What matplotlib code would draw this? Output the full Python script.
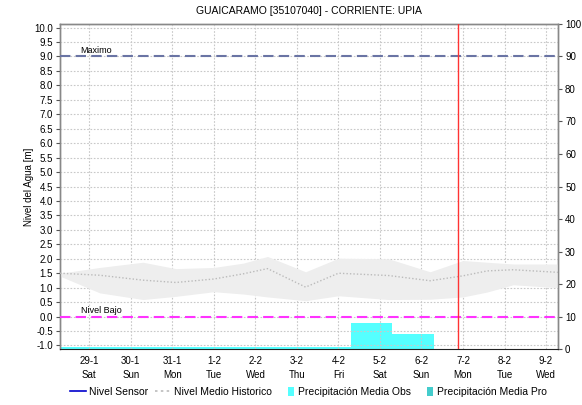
import matplotlib
matplotlib.use("Agg")
import matplotlib.pyplot as plt
from matplotlib.lines import Line2D
from matplotlib.patches import Patch
import numpy as np
import pandas as pd

plt.rcParams['font.family'] = ['Liberation Sans', 'DejaVu Sans']

title = "GUAICARAMO [35107040] - CORRIENTE: UPIA"

# Historic level statistics (m)
hist_times = ["2022-01-28 07:00", "2022-01-29 06:00", "2022-01-30 07:00", "2022-01-31 02:00",
              "2022-02-01 00:00", "2022-02-01 17:00", "2022-02-02 07:00", "2022-02-03 05:00",
              "2022-02-04 00:00", "2022-02-05 05:00", "2022-02-06 05:00", "2022-02-07 00:00",
              "2022-02-07 14:00", "2022-02-08 05:00", "2022-02-09 07:00"]
hist_max = [1.50, 1.70, 1.88, 1.66, 1.70, 1.85, 2.08, 1.55, 2.02, 2.00, 1.55, 1.94, 1.88, 1.82, 1.82]
hist_min = [1.40, 0.82, 0.59, 0.70, 0.86, 0.78, 0.68, 0.55, 0.72, 0.59, 0.60, 0.68, 0.85, 1.10, 1.00]
hist_mean = [1.50, 1.43, 1.26, 1.18, 1.30, 1.48, 1.66, 1.02, 1.50, 1.42, 1.24, 1.41, 1.58, 1.62, 1.53]

# Daily precipitation (mm), hydrological day starting 07:00
precip_start = ["2022-01-28 07:00", "2022-01-29 07:00", "2022-01-30 07:00", "2022-01-31 07:00",
                "2022-02-01 07:00", "2022-02-02 07:00", "2022-02-03 07:00", "2022-02-04 07:00",
                "2022-02-05 07:00"]
precip_obs = [0.7, 0.7, 0.7, 0.7, 0.7, 0.7, 0.7, 8.1, 4.6]

tick_days = ["2022-01-29", "2022-01-30", "2022-01-31", "2022-02-01", "2022-02-02", "2022-02-03",
             "2022-02-04", "2022-02-05", "2022-02-06", "2022-02-07", "2022-02-08", "2022-02-09"]
tick_labels = ["29-1\nSat", "30-1\nSun", "31-1\nMon", "1-2\nTue", "2-2\nWed", "3-2\nThu",
               "4-2\nFri", "5-2\nSat", "6-2\nSun", "7-2\nMon", "8-2\nTue", "9-2\nWed"]

x_start = "2022-01-28 07:00"
x_end = "2022-02-09 07:00"
now_time = "2022-02-06 21:00"

nivel_maximo = 9.0
nivel_bajo = 0.0

ht = pd.to_datetime(hist_times)
pt = pd.to_datetime(precip_start)
td = pd.to_datetime(tick_days)

fig = plt.figure(figsize=(5.82, 4.05), dpi=100)
ax = fig.add_axes([0.103, 0.138, 0.856, 0.803])
ax2 = ax.twinx()

# precipitation bars on the right axis, behind everything
ax2.bar(pt, precip_obs, width=1.0, align='edge', color='#55FFFF', edgecolor='none', zorder=1)
ax2.set_ylim(0, 100)
ax2.set_yticks(np.arange(0, 101, 10))
ax2.tick_params(axis='y', labelsize=7, length=3, width=0.8, color='#555555', pad=2)

ax.set_zorder(ax2.get_zorder() + 1)
ax.patch.set_visible(False)

ax.fill_between(ht, hist_min, hist_max, color='#EEEEEE', linewidth=0, zorder=2)
ax.plot(ht, hist_mean, color='#BBBBBB', linestyle=(0, (1, 1.5)), linewidth=1.0, zorder=3)

ax.axhline(nivel_maximo, color='#6A74A4', linestyle=(0, (5, 2.5)), linewidth=1.5, zorder=4)
ax.axhline(nivel_bajo, color='#FF33FF', linestyle=(0, (5, 2.5)), linewidth=1.5, zorder=4)
label_x = pd.Timestamp("2022-01-28 19:00")
ax.text(label_x, nivel_maximo + 0.06, "Maximo", fontsize=6.5, va='bottom', ha='left')
ax.text(label_x, nivel_bajo + 0.06, "Nivel Bajo", fontsize=6.5, va='bottom', ha='left')

ax.axvline(pd.Timestamp(now_time), color='#FF3333', linewidth=1.0, zorder=5)

ax.set_xlim(pd.Timestamp(x_start), pd.Timestamp(x_end))
ax.set_ylim(-1.125, 10.125)
yt = np.arange(-1.0, 10.01, 0.5)
ax.set_yticks(yt)
ax.set_yticklabels([f"{v:.1f}" for v in yt])
ax.set_xticks(td)
ax.set_xticklabels(tick_labels, fontsize=7, linespacing=1.5)
ax.tick_params(axis='x', length=0, pad=5)
ax.tick_params(axis='y', labelsize=7, length=3, width=0.8, color='#555555', pad=2)

ax.grid(True, color='#C8C8C8', linestyle=(0, (1.5, 1.5)), linewidth=0.8)
ax.set_ylabel("Nivel del Agua [m]", fontsize=7, labelpad=0)

for a in (ax, ax2):
    for s in ('left', 'right', 'top'):
        a.spines[s].set_color('#888888')
        a.spines[s].set_linewidth(1.0)
ax2.spines['bottom'].set_visible(False)
ax.spines['bottom'].set_color('#222222')
ax.spines['bottom'].set_linestyle((0, (1, 1)))
ax.spines['bottom'].set_linewidth(0.8)

fig.suptitle(title, x=0.53, y=0.985, fontsize=7.5, va='top')

handles = [
    Line2D([], [], color='#0000CC', linewidth=1.2),
    Line2D([], [], color='#BBBBBB', linestyle=(0, (1.5, 2)), linewidth=1.2),
    Patch(facecolor='#55FFFF', edgecolor='none'),
    Patch(facecolor='#44CCCC', edgecolor='none'),
]
labels = ["Nivel Sensor", "Nivel Medio Historico", "Precipitación Media Obs", "Precipitación Media Pro"]
leg = fig.legend(handles, labels, loc='center', bbox_to_anchor=(0.53, 0.032), ncol=4, frameon=False,
                 fontsize=7.5, handlelength=1.5, handleheight=1.0, handletextpad=0.3,
                 columnspacing=0.7, borderaxespad=0)
# narrow square swatches for the precipitation entries
for h in leg.legend_handles[2:]:
    h.set_width(5)
    h.set_x(h.get_x() + 6)

fig.savefig("out.png", dpi=100)
